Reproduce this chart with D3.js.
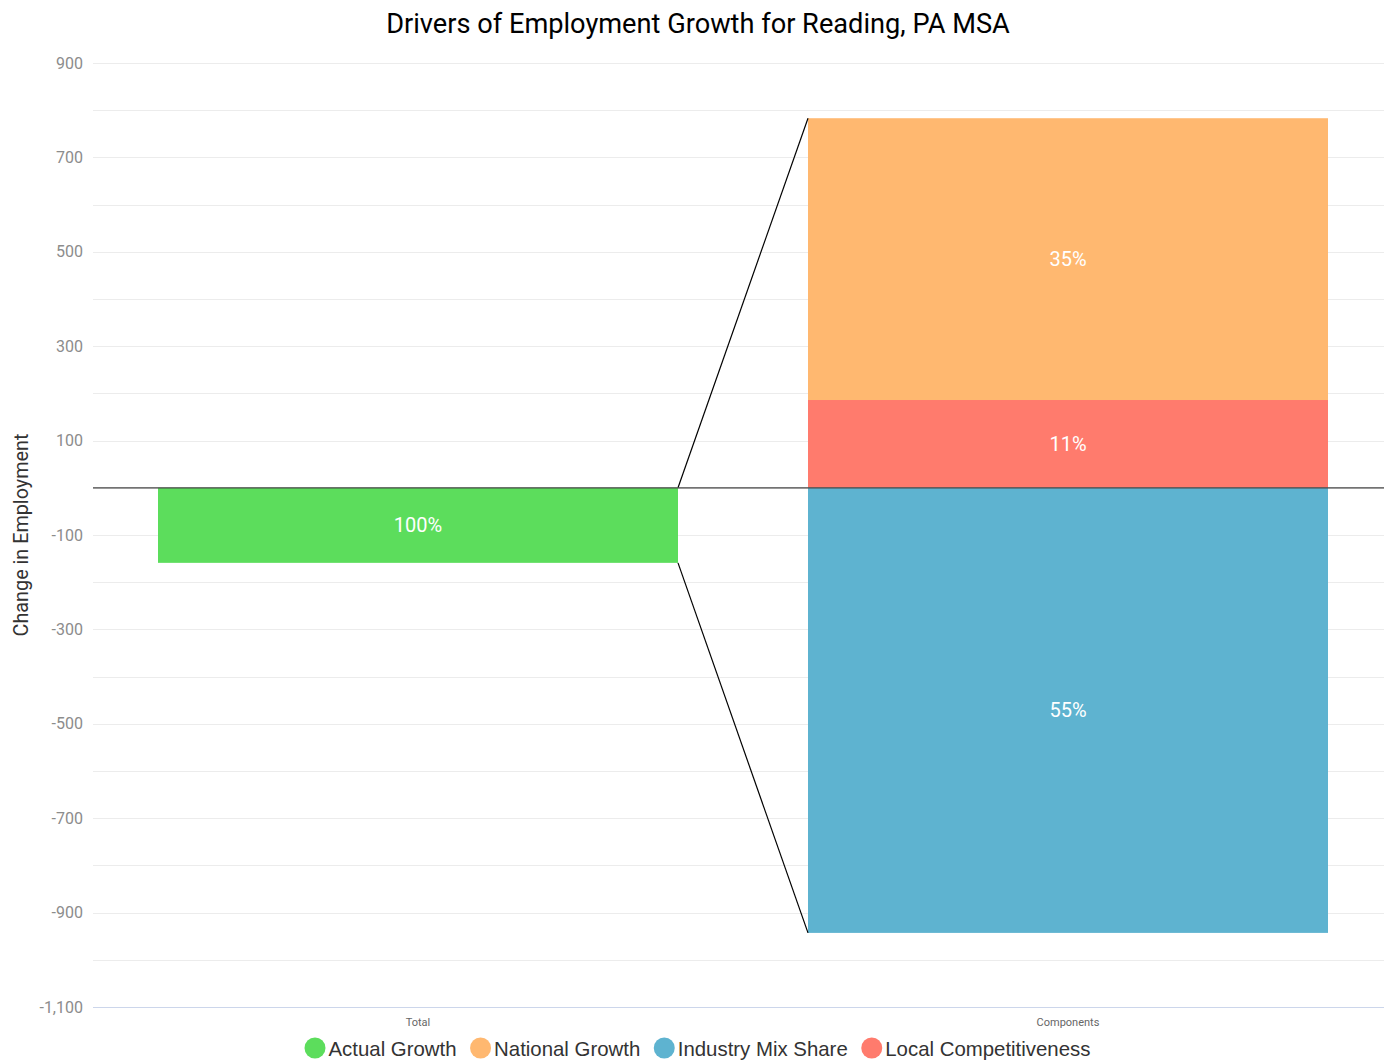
<!DOCTYPE html>
<html><head><meta charset="utf-8">
<script src="https://cdn.jsdelivr.net/npm/d3@7"></script>
<style>
body{margin:0;background:#fff;font-family:Roboto,"Noto Sans",sans-serif;}
</style></head><body>
<svg id="chart" width="1384" height="1062"></svg>
<script>
const categories = ["Total", "Components"];
const actualGrowth = -159;
const componentNames = ["Local Competitiveness", "National Growth", "Industry Mix Share"];
const componentValues = [186, 597, -943];
const componentLabels = ["11%", "35%", "55%"];
const totalLabel = "100%";
const legendNames = ["Actual Growth", "National Growth", "Industry Mix Share", "Local Competitiveness"];
const legendColors = ["#5cdd5c", "#ffb870", "#5eb3d0", "#ff7b6d"];
const yTicks = d3.range(-1100, 901, 100);

(function(){
const colorMap = {};
legendNames.forEach((n, i) => colorMap[n] = legendColors[i]);
const svg = d3.select("#chart");
const mLeft = 93, mRight = 1384, mTop = 63, mBottom = 1007;
const y = d3.scaleLinear().domain([-1100, 900]).range([mBottom, mTop]);
const x = d3.scaleBand().domain(categories).range([mLeft, mLeft + 1300]).paddingInner(0.2).paddingOuter(0.1);
const fmt = d => d3.format(",")(d).replace("\u2212", "-");

// grid
svg.append("g").selectAll("line").data(yTicks.filter(d => d !== -1100)).join("line")
  .attr("x1", mLeft).attr("x2", mRight).attr("y1", d => Math.round(y(d)) + 0.5).attr("y2", d => Math.round(y(d)) + 0.5)
  .attr("stroke", "#ececec").attr("stroke-width", 1);
// bottom axis line
svg.append("line").attr("x1", mLeft).attr("x2", mRight).attr("y1", Math.round(y(-1100)) + 0.5).attr("y2", Math.round(y(-1100)) + 0.5)
  .attr("stroke", "#ccd6eb").attr("stroke-width", 1);

// y labels
svg.append("g").selectAll("text").data(yTicks.filter(d => (d + 1100) % 200 === 0)).join("text")
  .attr("x", 83).attr("y", d => y(d) + 5.5).attr("text-anchor", "end")
  .attr("font-size", 16).attr("fill", "#8c8c8c").text(fmt);

// y title
svg.append("text").attr("transform", `translate(28,${(mTop+mBottom)/2}) rotate(-90)`)
  .attr("text-anchor", "middle").attr("font-size", 19.8).attr("fill", "#333").text("Change in Employment");

// x labels
svg.append("g").selectAll("text").data(categories).join("text")
  .attr("x", d => x(d) + x.bandwidth()/2).attr("y", 1026).attr("text-anchor", "middle")
  .attr("font-size", 11).attr("fill", "#666").text(d => d);

// Total bar
const bw = x.bandwidth();
svg.append("rect").attr("x", x("Total")).attr("width", bw)
  .attr("y", y(Math.max(0, actualGrowth))).attr("height", Math.abs(y(actualGrowth) - y(0)))
  .attr("fill", colorMap["Actual Growth"]);
svg.append("text").attr("x", x("Total") + bw/2).attr("y", (y(0) + y(actualGrowth))/2 + 7)
  .attr("text-anchor","middle").attr("font-size", 20).attr("fill","#fff").text(totalLabel);

// Components stacked
const segs = [];
let p = 0, n = 0;
componentNames.forEach((name, i) => {
  const v = componentValues[i];
  let a, b;
  if (v >= 0) { a = p; b = p + v; p = b; } else { a = n; b = n + v; n = b; }
  segs.push({name, a, b, label: componentLabels[i]});
});
svg.append("g").selectAll("rect").data(segs).join("rect")
  .attr("x", x("Components")).attr("width", bw)
  .attr("y", d => y(Math.max(d.a, d.b))).attr("height", d => Math.abs(y(d.a) - y(d.b)))
  .attr("fill", d => colorMap[d.name]);
svg.append("g").selectAll("text").data(segs).join("text")
  .attr("x", x("Components") + bw/2).attr("y", d => (y(d.a) + y(d.b))/2 + 7)
  .attr("text-anchor","middle").attr("font-size", 20).attr("fill","#fff").text(d => d.label);

// connectors
const topVal = d3.max(segs, d => Math.max(d.a, d.b));
const botVal = d3.min(segs, d => Math.min(d.a, d.b));
const tx = x("Total") + bw, cx = x("Components");
svg.append("line").attr("x1", tx).attr("y1", y(Math.max(0, actualGrowth))).attr("x2", cx).attr("y2", y(topVal))
  .attr("stroke", "#000").attr("stroke-width", 1.2);
svg.append("line").attr("x1", tx).attr("y1", y(Math.min(0, actualGrowth))).attr("x2", cx).attr("y2", y(botVal))
  .attr("stroke", "#000").attr("stroke-width", 1.2);

// zero line
svg.append("line").attr("x1", mLeft).attr("x2", mRight).attr("y1", y(0)).attr("y2", y(0))
  .attr("stroke", "#444").attr("stroke-width", 1.3);

// title
svg.append("text").attr("x", 698).attr("y", 33).attr("text-anchor","middle")
  .attr("font-size", 27.2).attr("fill","#000").text("Drivers of Employment Growth for Reading, PA MSA");

// legend
const lg = svg.append("g");
let lx = 315;
legendNames.forEach((nm, i) => {
  lg.append("circle").attr("cx", lx).attr("cy", 1048).attr("r", 10.5).attr("fill", legendColors[i]);
  const t = lg.append("text").attr("x", lx + 13.5).attr("y", 1056).attr("font-family", "'Liberation Sans', Arial, sans-serif")
    .attr("font-size", 20.4).attr("fill", "#333").text(nm);
  lx += 13.5 + t.node().getComputedTextLength() + 24;
});
})();
</script>
</body></html>
